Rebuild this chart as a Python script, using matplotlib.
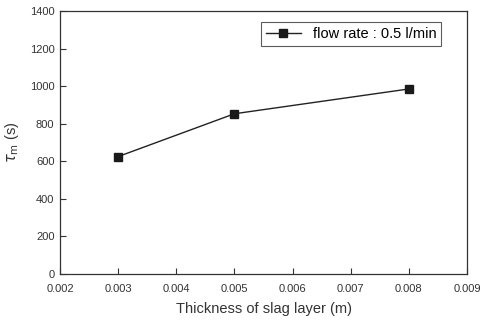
import matplotlib
matplotlib.use("Agg")
import matplotlib.pyplot as plt

thickness = [0.003, 0.005, 0.008]
tau_m = [625, 853, 985]
series_label = "flow rate : 0.5 l/min"
x_ticks = [0.002, 0.003, 0.004, 0.005, 0.006, 0.007, 0.008, 0.009]
y_ticks = [0, 200, 400, 600, 800, 1000, 1200, 1400]

plt.rcParams['font.family'] = ['Liberation Sans', 'DejaVu Sans']

fig = plt.figure(figsize=(4.8, 3.21), dpi=100)
ax = fig.add_axes([60/480, 1-274/321, (467-60)/480, (274-11)/321])
ax.plot(thickness, tau_m, color='#222222', lw=1.0, marker='s', ms=6,
        mfc='#1a1a1a', mec='#1a1a1a', label=series_label)
ax.set_xlim(0.002, 0.009)
ax.set_ylim(0, 1400)
ax.set_xticks(x_ticks)
ax.set_xticklabels([f"{v:.3f}" for v in x_ticks])
ax.set_yticks(y_ticks)
ax.tick_params(direction='in', length=4, width=0.8, labelsize=8, colors='#333333',
               top=False, right=False)
ax.tick_params(axis='x', pad=7)
ax.tick_params(axis='y', pad=4)
for s in ax.spines.values():
    s.set_linewidth(0.9)
    s.set_color('#333333')
ax.set_xlabel("Thickness of slag layer (m)", fontsize=10.5, color='#333333', labelpad=6)
ax.set_ylabel(r"$\tau$$_{\rm m}$ (s)", fontsize=10.5, color='#333333', labelpad=6)
leg = ax.legend(loc='upper right', bbox_to_anchor=(0.955, 0.985), fontsize=10.5,
                frameon=True, fancybox=False, edgecolor='#333333', handlelength=2.4,
                borderpad=0.35)
leg.get_frame().set_linewidth(0.8)
fig.savefig("out.png", dpi=100)
